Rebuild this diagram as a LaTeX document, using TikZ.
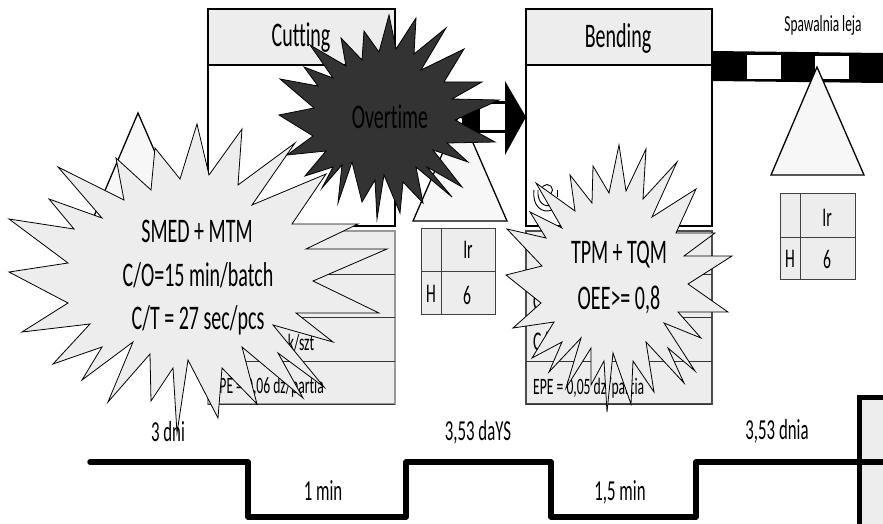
\documentclass[tikz,border=0pt]{standalone}
\usepackage{fontspec}
\setmainfont[FakeStretch=0.58,Ligatures=NoCommon]{Carlito}
\definecolor{boxgray}{HTML}{EDEDED}
\definecolor{trigray}{HTML}{F7F7F7}
\definecolor{stardark}{HTML}{333333}
\definecolor{edgegray}{HTML}{999999}
\tikzset{
  big/.style={inner sep=0pt,font=\fontsize{34.5}{34.5}\selectfont},
  mid/.style={inner sep=0pt,font=\fontsize{29}{29}\selectfont},
  tiny/.style={inner sep=0pt,font=\fontsize{23.5}{23.5}\selectfont},
  hdr/.style={draw=black,line width=1.4pt,fill=boxgray},
  body/.style={draw=black,line width=1.4pt,fill=white},
  databox/.style={draw=edgegray,line width=1.2pt,fill=boxgray},
  rowline/.style={draw=black!80,line width=1pt},
  tri/.style={draw=black,line width=1.3pt,fill=trigray,line join=miter},
  burst/.style={draw=black,line width=.8pt,fill=boxgray,line join=miter},
  darkburst/.style={draw=black,line width=.8pt,fill=stardark,line join=miter},
  timeline/.style={draw=black,line width=5.5pt,line cap=round,line join=round},
  infoline/.style={draw=black!75,line width=.9pt}
}
\begin{document}
\begin{tikzpicture}[x=1pt,y=-1pt]
\useasboundingbox (0,0) rectangle (883,524);
\clip (0,0) rectangle (883,524);
% process boxes
\draw[hdr] (208,9) rectangle (395,65);
\draw[body] (208,65) rectangle (395,226);
\draw[databox] (208,231) rectangle (395,404);
\draw[rowline] (208,274) -- (395,274) (208,317) -- (395,317) (208,361) -- (395,361) (208,404) -- (395,404);
\draw[hdr] (526,9) rectangle (712,65);
\draw[body] (526,65) rectangle (712,226);
\draw[databox,draw=black!70] (526,231) rectangle (712,404);
\draw[rowline] (526,274) -- (712,274) (526,317) -- (712,317) (526,361) -- (712,361) (526,404) -- (712,404);
\node[big] (cut) at (301,38) {Cutting};
\node[big] (bend) at (618,38) {Bending};
\node[tiny,anchor=west] (tcb) at (533,342) {\fontsize{27}{27}\selectfont C/};
\node[tiny,anchor=west] (ocb) at (533,302) {\fontsize{27}{27}\selectfont C};
\node[tiny] (ksz) at (301,343) {k/szt};
\node[tiny,anchor=east] (epea) at (324,387) {EPE = 0,06 dz/partia};
\node[tiny,anchor=west] (epeb) at (533,388) {EPE = 0,05 dz/partia};
% operator icon
\draw[line width=.9pt] (547,190) circle (5.5);
\draw[line width=.9pt] (534,190) .. controls (532,206) and (542,214) .. (552,210);
\draw[line width=.9pt] (538,190) .. controls (537,202) and (544,208) .. (552,205);
\draw[line width=.9pt] (557,190) -- (557,197);
% triangles
\draw[tri] (138,113) -- (185,221) -- (92,221) -- cycle;
\draw[tri] (460,113) -- (507,221) -- (413,221) -- cycle;
% push arrow
\fill[white] (462,102) rectangle (505,133);
\draw[black,line width=3pt] (462,103) -- (505,103) (462,132) -- (505,132);
\fill[black] (462,102) rectangle (480,133);
\fill[black] (505,81) -- (526,117) -- (505,155) -- cycle;
% conveyor
\fill[black] (712,51) -- (883,53) -- (883,83) -- (712,81) -- cycle;
\fill[white] (747,55) rectangle (781,79);
\fill[white] (815,56) rectangle (849,79);
\draw[tri] (817,67) -- (864,175) -- (771,175) -- cycle;
\node[tiny] (spaw) at (823,25) {\fontsize{23}{23}\selectfont Spawalnia leja};
% info boxes
\draw[infoline,fill=boxgray] (421,228) rectangle (495,314);
\draw[infoline] (441,228) -- (441,314) (421,271) -- (495,271);
\node[tiny] (ira) at (468,250) {\fontsize{27}{27}\selectfont Ir};
\node[tiny] (ha) at (431,294) {\fontsize{27}{27}\selectfont H};
\node[tiny] (sa) at (467,295) {\fontsize{27}{27}\selectfont 6};
\draw[infoline,fill=boxgray] (780,193) rectangle (855,279);
\draw[infoline] (800,193) -- (800,279) (780,237) -- (855,237);
\node[tiny] (irb) at (827,218) {\fontsize{27}{27}\selectfont Ir};
\node[tiny] (hb) at (790,259) {\fontsize{27}{27}\selectfont H};
\node[tiny] (sb) at (827,259) {\fontsize{27}{27}\selectfont 6};
% end box and timeline
\draw[draw=black,line width=5pt,fill=boxgray] (859,397) rectangle (900,540);
\draw[timeline] (90,462) -- (248,462) -- (248,517) -- (406,517) -- (406,462) -- (551,462) -- (551,517) -- (696,517) -- (696,462) -- (890,462);
\node[mid] (t1) at (168,432) {3 dni};
\node[mid] (t2) at (478,432) {3,53 daYS};
\node[mid] (t3) at (777,431) {3,53 dnia};
\node[mid] (t4) at (323,491) {1 min};
\node[mid] (t5) at (620,492) {1,5 min};
% TPM burst
\draw[burst] (619,145) -- (626,191) -- (646,149) -- (643,199) -- (677,162) -- (652,217) -- (696,189) -- (676,233) -- (715,233) -- (684,256) -- (732,256) -- (688,284) -- (728,312) -- (678,312) -- (701,338) -- (664,323) -- (695,371) -- (668,348) -- (684,383) -- (646,342) -- (654,392) -- (633,361) -- (631,404) -- (613,353) -- (607,412) -- (604,361) -- (591,385) -- (591,348) -- (566,388) -- (581,338) -- (549,372) -- (562,342) -- (532,358) -- (554,322) -- (513,328) -- (541,303) -- (506,275) -- (542,266) -- (507,229) -- (546,238) -- (530,212) -- (562,228) -- (536,183) -- (575,211) -- (570,175) -- (592,203) -- (593,166) -- (609,193) -- cycle;
\node[big] (tpm) at (619,255) {TPM + TQM};
\node[big] (oee) at (619,300) {OEE>= 0,8};
% SMED burst
\draw[burst] (197,124) -- (209,175) -- (242,129) -- (238,185) -- (295,143) -- (252,205) -- (326,174) -- (292,224) -- (358,224) -- (306,249) -- (387,249) -- (313,281) -- (379,313) -- (296,313) -- (333,342) -- (273,325) -- (324,387) -- (278,353) -- (303,398) -- (242,347) -- (257,404) -- (222,368) -- (218,418) -- (188,360) -- (177,433) -- (173,368) -- (151,401) -- (150,354) -- (108,402) -- (133,342) -- (82,380) -- (102,347) -- (53,364) -- (90,324) -- (22,332) -- (68,303) -- (9,272) -- (68,263) -- (9,219) -- (74,229) -- (49,199) -- (102,218) -- (58,167) -- (124,200) -- (116,158) -- (151,190) -- (155,148) -- (180,179) -- cycle;
\node[big] (smed) at (197,231) {SMED + MTM};
\node[big] (co) at (198,275) {C/O=15 min/batch};
\node[big] (ct) at (198,320) {C/T = 27 sec/pcs};
% Overtime burst
\draw[darkburst] (389,15) -- (396,49) -- (416,18) -- (414,54) -- (446,28) -- (421,70) -- (464,49) -- (444,82) -- (482,82) -- (452,99) -- (499,100) -- (455,120) -- (495,142) -- (447,143) -- (468,162) -- (433,150) -- (462,187) -- (427,167) -- (452,197) -- (416,167) -- (423,203) -- (403,182) -- (400,213) -- (384,175) -- (377,219) -- (375,180) -- (362,202) -- (352,162) -- (338,203) -- (342,165) -- (322,188) -- (333,167) -- (305,176) -- (326,151) -- (287,155) -- (313,136) -- (279,115) -- (314,108) -- (280,79) -- (318,86) -- (304,67) -- (333,78) -- (310,45) -- (346,66) -- (341,38) -- (362,60) -- (364,31) -- (379,52) -- cycle;
\node[big] (ot) at (390,117) {Overtime};
\end{tikzpicture}
\end{document}
